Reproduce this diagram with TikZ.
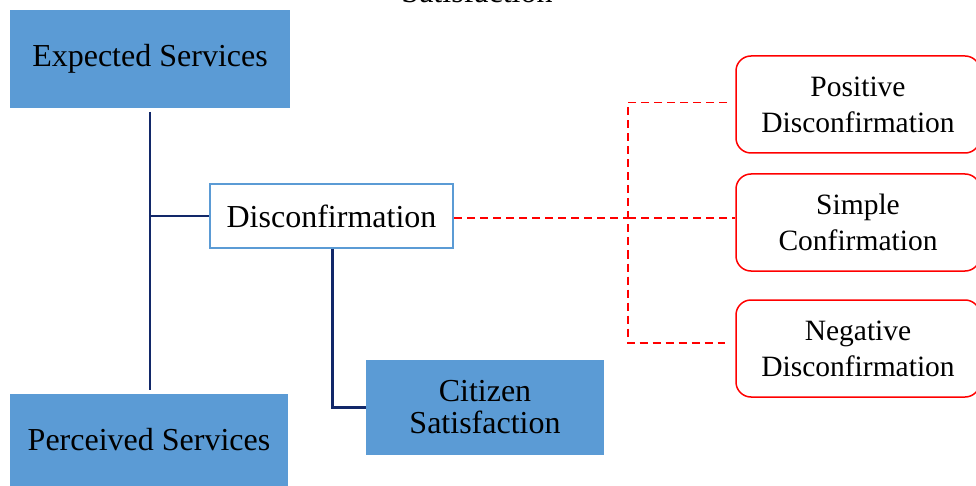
\documentclass[tikz,border=0pt]{standalone}
\usepackage{fontspec}
\setmainfont{Liberation Serif}
\definecolor{boxblue}{HTML}{5B9BD5}
\definecolor{navy}{RGB}{18,40,105}
\definecolor{dred}{HTML}{FF0000}
\begin{document}
\begin{tikzpicture}[x=1pt,y=-1pt,
  bluebox/.style={fill=boxblue,draw=none,inner sep=0pt,align=center,font=\fontsize{32}{32}\selectfont},
  discbox/.style={fill=white,draw=boxblue,line width=2pt,inner sep=0pt,font=\fontsize{32}{33}\selectfont},
  redbox/.style={draw=dred,line width=1.5pt,rounded corners=15pt,fill=white,inner sep=0pt,align=center,minimum width=244pt,minimum height=97pt,font=\fontsize{29.5}{36}\selectfont},
  navyline/.style={draw=navy,line width=2.2pt},
  reddash/.style={draw=dred,line width=1.5pt,dash pattern=on 8pt off 5pt}]
\useasboundingbox (0,0) rectangle (976,486);
\node[anchor=base,font=\fontsize{32}{33}\selectfont] (title) at (477,3) {Satisfaction};
\node[bluebox,minimum width=280pt,minimum height=98pt] (exp) at (150,59) {\raisebox{-3pt}{Expected Services}};
\node[bluebox,minimum width=278pt,minimum height=92pt] (perc) at (149,440) {\raisebox{-2pt}{Perceived Services}};
\node[discbox,minimum width=243pt,minimum height=63pt] (disc) at (331.5,216) {\raisebox{-1pt}{Disconfirmation}};
\node[bluebox,minimum width=238pt,minimum height=95pt] (cit) at (485,407.5) {Citizen\\Satisfaction};
\node[redbox] (pos) at (858,104.5) {Positive\\Disconfirmation};
\node[redbox] (sim) at (858,222.5) {Simple\\Confirmation};
\node[redbox] (neg) at (858,348.5) {Negative\\Disconfirmation};
% navy connectors
\coordinate (vtop) at (150,112);
\coordinate (vbot) at (150,390);
\draw[navyline] (vtop) -- (vbot);
\draw[navyline] (150,216) -- (disc.west);
\draw[navyline] (disc.south -| 332.5,0) -- (332.5,407.5) -- (cit.west |- 0,407.5);
% red dashed connectors
\coordinate (rtop) at (727,102.5);
\coordinate (rbot) at (725,343);
\draw[reddash] (disc.east |- 0,218) -- (628,218);
\draw[reddash] (rtop) -- (628,102.5) -- (628,343) -- (rbot);
\draw[reddash] (628,218) -- (sim.west |- 0,218);
\end{tikzpicture}
\end{document}
